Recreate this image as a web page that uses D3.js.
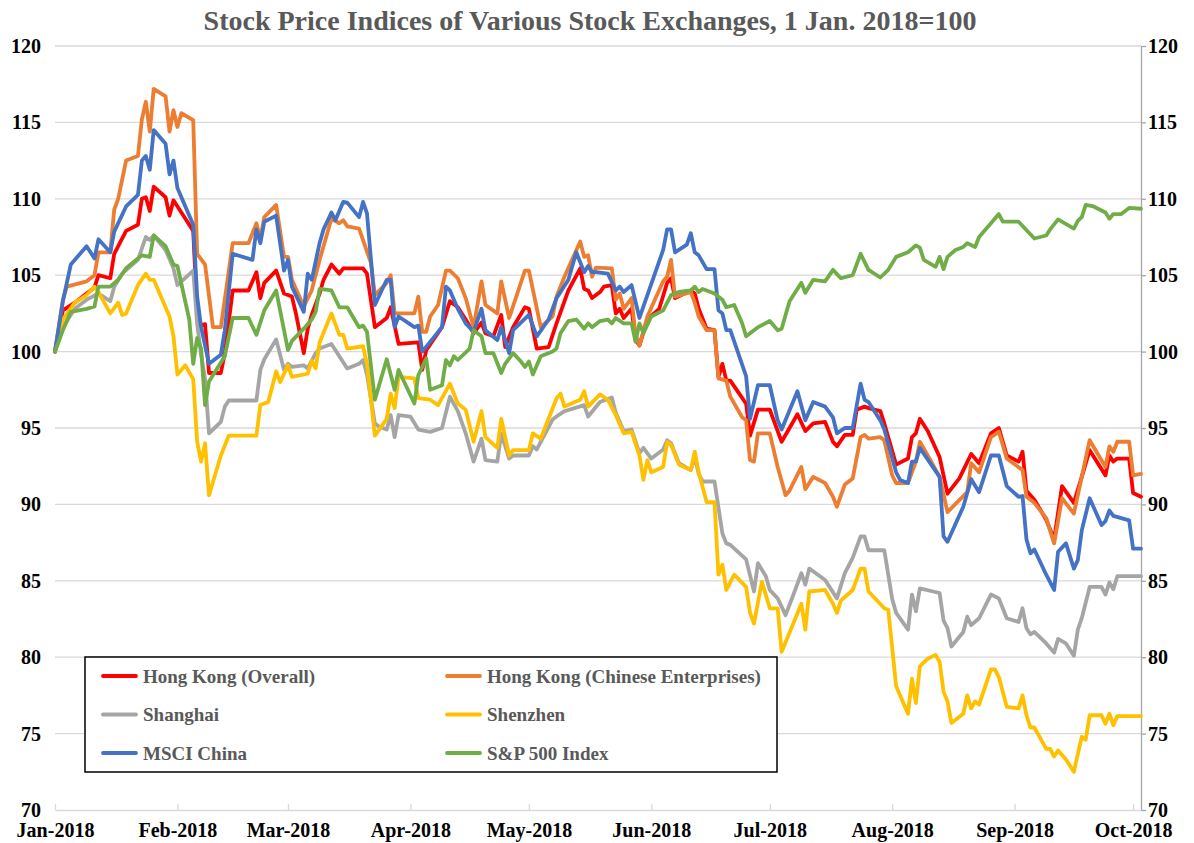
<!DOCTYPE html>
<html>
<head>
<meta charset="utf-8">
<script src="https://cdn.jsdelivr.net/npm/d3@7"></script>
<style>
  body { margin: 0; background: #fff; }
  svg { display: block; }
  text { font-family: "Liberation Serif", "Times New Roman", serif; font-weight: bold; }
</style>
</head>
<body>
<div id="chart"></div>
<script>
// Stock price indices, 1 Jan 2018 = 100
// each point is [days since 1 Jan 2018, index value]

var hkOverall = [[0,100],[2,102.7],[5,103.2],[8,103.8],[10,104.2],[11,105.0],[14,104.8],[15,106.4],[18,107.9],[21,108.3],[22,110.0],[23,110.1],[24,109.2],[25,110.8],[28,110.1],[29,108.9],[30,109.9],[32,109.1],[35,107.9],[36,102.5],[37,101.7],[38,101.8],[39,98.6],[42,98.6],[43,99.9],[45,104.0],[49,104.0],[51,105.2],[52,103.5],[53,104.5],[56,105.3],[58,103.8],[60,103.6],[61,102.5],[63,99.9],[64,101.5],[65,102.4],[67,103.8],[68,104.7],[70,105.7],[72,105.1],[73,105.45],[78,105.45],[79,105.1],[81,101.6],[84,102.2],[85,102.9],[87,100.5],[92,100.6],[93,98.8],[94,100.1],[98,101.6],[100,103.3],[102,102.9],[104,102.1],[106,101.2],[108,101.9],[109,101.2],[111,101.0],[113,102.4],[114,100.3],[116,101.6],[119,102.9],[120,102.8],[122,100.2],[125,100.3],[127,101.85],[130,104.0],[133,105.45],[134,104.1],[135,104.0],[136,103.5],[138,103.9],[139,104.25],[141,104.35],[142,102.5],[143,102.8],[144,102.2],[146,102.8],[147,100.75],[148,100.4],[150,102.1],[153,102.8],[155,104.5],[156,104.8],[157,103.5],[161,104.0],[162,103.8],[163,102.8],[165,101.5],[167,101.4],[168,98.35],[169,99.2],[170,98.1],[171,98.1],[175,96.6],[176,94.5],[178,96.2],[181,96.2],[184,94.1],[188,95.9],[190,94.8],[192,95.3],[195,95.4],[197,94.1],[198,93.8],[200,94.55],[202,94.55],[203,96.2],[205,96.4],[206,96.3],[209,96.1],[210,95.3],[213,92.6],[216,93.0],[217,94.4],[218,94.65],[219,95.6],[221,94.8],[224,93.1],[226,90.7],[229,91.7],[232,93.3],[234,92.7],[237,94.65],[239,95.0],[241,93.2],[244,92.8],[245,93.45],[246,90.9],[248,90.3],[251,89.0],[253,87.7],[255,91.2],[258,90.1],[260,91.8],[262,93.55],[266,91.9],[267,93.2],[268,92.8],[269,93.0],[272,93.0],[273,90.75],[275,90.5]];

var hkChinese = [[0,100],[2,103.4],[3,104.25],[8,104.6],[10,105.0],[11,106.5],[14,106.5],[15,109.3],[16,110.0],[18,112.5],[21,112.8],[22,115.2],[23,116.35],[24,114.4],[25,117.2],[28,116.7],[29,114.4],[30,115.8],[31,114.7],[32,115.6],[35,115.15],[36,106.4],[38,105.7],[40,101.6],[42,101.6],[45,107.1],[49,107.1],[51,108.4],[52,107.4],[53,108.8],[56,109.6],[58,106.2],[59,106.2],[60,104.7],[63,102.95],[65,104.0],[67,106.0],[70,108.7],[72,108.4],[73,108.6],[74,108.2],[77,108.05],[80,105.8],[81,103.7],[84,104.5],[85,105.0],[86,102.5],[91,102.5],[92,103.6],[93,101.3],[94,101.3],[95,102.3],[97,103.05],[99,105.3],[100,105.3],[102,104.8],[104,103.5],[106,101.6],[108,104.6],[109,103.05],[112,102.5],[113,104.6],[115,102.2],[119,105.3],[120,105.3],[123,101.6],[126,102.3],[127,103.6],[129,104.9],[133,107.2],[134,106.2],[135,106.3],[136,104.9],[137,105.5],[141,105.45],[142,103.4],[143,103.8],[144,102.8],[146,103.5],[147,101.1],[148,100.4],[150,102.3],[154,104.6],[155,104.9],[156,106.0],[157,103.6],[161,103.9],[162,103.2],[163,102.3],[165,101.4],[167,101.4],[168,98.25],[170,98.1],[171,97.05],[174,95.7],[175,95.5],[176,92.9],[177,92.8],[178,94.65],[181,94.65],[183,92.45],[185,90.6],[186,90.9],[189,92.45],[190,91.0],[192,91.8],[195,91.4],[197,90.5],[198,89.85],[200,91.3],[202,91.7],[204,94.4],[205,94.55],[206,94.3],[209,94.4],[210,94.2],[212,91.9],[213,91.4],[216,91.4],[218,92.8],[219,94.1],[221,93.2],[224,91.8],[226,89.5],[231,90.8],[232,92.7],[234,92.1],[237,94.4],[239,94.75],[241,93.0],[245,92.25],[246,90.5],[248,90.1],[251,89.1],[253,87.45],[255,90.4],[258,89.4],[260,91.8],[262,94.2],[266,92.45],[267,93.8],[268,93.45],[269,94.1],[272,94.1],[273,91.9],[275,92.0]];

var shanghai = [[0,100],[2,101.6],[5,102.8],[8,103.4],[11,103.8],[14,103.3],[15,104.25],[17,105.1],[21,106.0],[23,107.5],[24,107.3],[25,107.6],[28,106.65],[30,105.45],[31,104.35],[35,105.3],[36,101.8],[37,99.8],[38,98.2],[39,94.65],[42,95.4],[43,96.4],[44,96.8],[51,96.8],[52,98.8],[53,99.5],[56,100.8],[58,98.8],[59,99.2],[60,99.0],[63,99.1],[64,98.9],[66,99.9],[67,100.2],[70,100.5],[72,99.7],[74,98.9],[77,99.2],[78,99.45],[79,98.5],[81,95.3],[82,95.1],[84,94.9],[85,95.85],[86,94.4],[87,95.85],[90,95.75],[92,94.9],[95,94.75],[98,95.0],[100,97.05],[102,96.1],[104,94.65],[106,92.8],[108,94.3],[109,92.9],[112,92.8],[113,94.65],[115,93.0],[116,93.2],[120,93.2],[121,93.8],[122,93.6],[126,95.55],[127,95.75],[129,96.1],[134,96.5],[135,95.75],[138,96.7],[141,97.0],[142,96.0],[144,94.8],[146,94.9],[148,93.35],[149,93.7],[151,93.0],[154,93.6],[155,94.2],[156,94.0],[158,92.7],[161,92.25],[162,93.1],[163,92.0],[164,91.5],[167,91.5],[169,88.1],[170,87.45],[171,87.35],[175,86.4],[177,84.3],[178,86.15],[180,85.3],[181,84.4],[183,83.85],[185,82.75],[187,84.1],[189,85.5],[190,84.75],[191,85.8],[195,85.05],[198,83.85],[200,85.5],[202,86.5],[204,87.9],[205,87.9],[206,87.0],[210,87.0],[212,83.8],[213,82.9],[216,81.8],[217,84.1],[218,83.0],[219,84.5],[224,84.2],[225,82.4],[226,81.9],[227,80.7],[230,81.65],[231,82.65],[232,82.1],[234,82.55],[237,84.1],[239,83.85],[241,82.55],[244,82.3],[245,83.2],[246,81.9],[247,81.5],[248,81.65],[251,80.9],[253,80.3],[254,81.2],[256,80.9],[258,80.1],[259,81.8],[260,82.55],[262,84.6],[265,84.6],[266,84.1],[267,84.9],[268,84.45],[269,85.3],[275,85.3]];

var shenzhen = [[0,100],[2,102.1],[5,103.2],[8,103.7],[10,104.25],[11,103.9],[14,102.5],[16,103.2],[17,102.4],[18,102.5],[21,104.35],[23,105.1],[24,104.7],[25,104.7],[29,102.3],[30,101.0],[31,98.5],[33,99.1],[35,98.2],[36,94.1],[37,92.8],[38,94.0],[39,90.6],[42,93.2],[44,94.5],[51,94.5],[52,96.5],[54,96.7],[56,98.7],[57,98.0],[59,99.1],[60,98.35],[64,98.55],[65,99.4],[66,98.9],[67,100.6],[70,102.5],[72,101.1],[73,101.1],[74,100.2],[78,100.35],[79,99.2],[81,94.5],[84,95.6],[85,97.25],[86,96.3],[87,98.35],[91,98.25],[92,96.95],[95,96.85],[97,96.5],[100,97.9],[102,96.6],[104,96.2],[106,94.1],[108,96.1],[109,94.4],[112,93.7],[113,95.6],[115,93.2],[116,93.55],[120,93.55],[121,94.65],[123,94.3],[127,96.95],[128,97.25],[129,96.4],[133,96.85],[134,97.4],[135,96.4],[138,97.2],[140,96.85],[142,95.85],[144,94.65],[146,94.75],[148,93.2],[149,91.6],[150,92.9],[151,92.1],[154,92.45],[155,94.1],[156,93.9],[158,92.6],[161,92.25],[162,93.45],[163,92.1],[165,90.15],[167,90.15],[168,85.4],[169,86.05],[170,84.4],[172,85.4],[175,84.6],[176,82.9],[177,82.2],[179,84.95],[181,83.2],[183,83.2],[184,80.35],[189,83.5],[190,81.8],[191,84.3],[195,84.4],[197,83.5],[198,82.9],[199,83.7],[202,84.4],[204,85.8],[205,85.8],[206,84.3],[210,83.2],[211,83.1],[213,78.1],[216,76.3],[217,78.6],[218,77.0],[219,79.4],[221,79.9],[223,80.15],[224,79.7],[225,77.75],[226,77.1],[227,75.7],[230,76.3],[231,77.5],[232,76.65],[233,77.1],[234,76.9],[237,79.2],[238,79.2],[239,78.7],[241,76.75],[244,76.65],[245,77.5],[246,76.2],[247,75.4],[248,75.4],[251,74.0],[252,74.0],[253,73.5],[254,73.9],[256,73.3],[258,72.5],[260,74.8],[261,74.6],[262,76.2],[265,76.2],[266,75.65],[267,76.3],[268,75.55],[269,76.15],[275,76.15]];

var msciChina = [[0,100],[2,103.3],[4,105.7],[8,106.9],[10,106.1],[11,107.35],[14,106.5],[15,107.85],[18,109.5],[21,110.25],[22,112.5],[23,112.8],[24,111.9],[25,114.5],[28,113.6],[29,111.6],[30,112.5],[31,110.7],[35,108.3],[36,103.6],[37,101.6],[39,99.2],[42,99.8],[43,101.4],[45,106.4],[50,106.0],[51,108.0],[52,107.1],[53,108.5],[56,108.9],[58,105.3],[59,106.0],[60,104.25],[63,102.6],[64,105.1],[65,104.7],[67,107.1],[68,108.0],[70,109.1],[71,108.6],[73,109.8],[74,109.75],[77,108.8],[78,109.8],[79,109.05],[81,103.05],[84,104.7],[85,104.7],[86,101.6],[87,102.3],[91,101.6],[92,101.7],[93,100.0],[98,101.6],[99,104.25],[100,104.0],[102,102.8],[104,101.85],[106,101.3],[108,102.8],[109,101.4],[112,100.75],[113,101.6],[115,99.9],[116,101.4],[120,102.4],[122,101.0],[125,102.1],[127,103.5],[130,104.7],[132,106.5],[134,105.2],[135,105.6],[136,105.2],[137,105.2],[140,105.1],[142,104.0],[143,104.25],[144,103.9],[146,104.35],[148,102.2],[150,103.7],[154,106.65],[155,108.0],[156,108.0],[157,106.5],[160,107.0],[161,107.75],[162,106.5],[163,106.3],[165,105.4],[167,105.4],[168,102.7],[169,102.5],[170,101.4],[171,101.4],[175,98.4],[176,95.6],[178,97.8],[181,97.8],[183,95.5],[184,94.9],[188,97.4],[190,95.5],[192,96.7],[195,96.4],[197,95.7],[198,94.65],[200,95.0],[202,95.0],[204,97.9],[205,96.85],[206,96.7],[209,95.5],[210,94.9],[213,92.1],[214,91.6],[216,91.4],[217,92.8],[218,92.8],[219,93.7],[224,91.8],[225,87.9],[226,87.55],[230,89.85],[232,91.65],[234,90.8],[237,93.2],[239,93.2],[241,91.2],[244,90.5],[245,90.55],[246,87.7],[247,86.8],[248,87.05],[251,85.4],[253,84.4],[254,86.9],[256,87.45],[258,85.8],[259,86.35],[260,88.3],[262,90.4],[265,88.65],[266,88.9],[267,89.6],[268,89.25],[272,88.95],[273,87.1],[275,87.1]];

var sp500 = [[0,100],[2,101.4],[4,102.6],[8,102.8],[10,102.95],[11,104.25],[14,104.25],[16,104.7],[18,105.45],[21,106.1],[22,106.3],[24,106.2],[25,107.6],[28,106.9],[30,105.7],[31,105.6],[34,102.1],[35,99.2],[36,100.9],[37,100.2],[38,96.5],[39,98.05],[43,99.7],[45,102.2],[49,102.2],[51,101.1],[53,102.7],[56,104.0],[57,102.7],[59,100.1],[60,100.7],[63,101.5],[65,102.1],[66,102.6],[67,104.1],[70,104.0],[72,102.9],[74,102.9],[77,101.6],[78,101.7],[79,101.3],[81,96.85],[84,99.5],[86,97.5],[87,98.8],[91,96.6],[92,98.45],[94,99.55],[95,97.5],[98,97.8],[99,99.45],[100,99.1],[101,99.7],[102,99.45],[105,100.2],[106,101.4],[108,101.0],[109,99.9],[111,99.9],[113,98.6],[114,99.2],[116,99.9],[118,99.35],[119,99.0],[120,99.35],[121,98.5],[123,99.7],[126,100.0],[127,100.2],[128,101.2],[130,102.0],[132,102.1],[134,101.5],[135,101.85],[136,101.6],[138,102.0],[140,102.1],[141,101.85],[142,102.2],[144,101.85],[146,101.85],[147,100.65],[148,101.85],[149,101.2],[151,102.3],[154,102.7],[156,103.7],[158,103.9],[161,104.0],[162,104.25],[163,103.9],[164,104.1],[167,103.8],[169,103.4],[170,102.9],[172,103.05],[174,101.85],[175,101.0],[178,101.6],[181,102.0],[183,101.4],[184,101.5],[186,103.3],[189,104.5],[190,103.85],[192,104.7],[195,104.6],[197,105.35],[199,104.8],[202,105.0],[204,106.4],[206,105.35],[209,104.85],[211,105.35],[213,106.2],[216,106.5],[218,106.95],[219,106.8],[220,106.0],[223,105.55],[224,106.2],[225,105.4],[226,106.2],[228,106.65],[230,106.85],[231,107.1],[233,106.85],[234,107.5],[237,108.4],[239,109.0],[240,108.5],[244,108.5],[248,107.4],[251,107.6],[252,108.0],[254,108.65],[258,108.05],[259,108.55],[260,108.8],[261,109.6],[263,109.5],[266,109.1],[267,108.7],[268,109.0],[270,109.0],[272,109.4],[275,109.35]];

var seriesNames = ["Hong Kong (Overall)", "Hong Kong (Chinese Enterprises)", "Shanghai", "Shenzhen", "MSCI China", "S&P 500 Index"];
var seriesData = [hkOverall, hkChinese, shanghai, shenzhen, msciChina, sp500];
var seriesColors = ["#ff0000", "#ed7d31", "#a5a5a5", "#ffc000", "#4472c4", "#70ad47"];
var yTicks = [70, 75, 80, 85, 90, 95, 100, 105, 110, 115, 120];

var w = 1194, h = 843;
var plotLeft = 55, plotRight = 1141, plotTop = 46, plotBottom = 810;

var start = new Date(2018, 0, 1);
function toDate(d) { return d3.timeDay.offset(start, d); }

var x = d3.scaleTime()
	.domain([start, new Date(2018, 9, 3)])
	.range([plotLeft, plotRight]);

var y = d3.scaleLinear()
	.domain([70, 120])
	.range([plotBottom, plotTop]);

var svg = d3.select('#chart').append('svg')
	.attr('width', w)
	.attr('height', h)
	.style('background', '#fff');

// title
svg.append('text')
	.attr('x', 590)
	.attr('y', 30)
	.attr('text-anchor', 'middle')
	.attr('fill', '#595959')
	.style('font-size', '28px')
	.text('Stock Price Indices of Various Stock Exchanges, 1 Jan. 2018=100');

// gridlines
svg.append('g')
	.selectAll('line')
	.data(yTicks.filter(function(d) { return d > 70; }))
	.enter().append('line')
	.attr('x1', plotLeft)
	.attr('x2', plotRight)
	.attr('y1', function(d) { return y(d); })
	.attr('y2', function(d) { return y(d); })
	.attr('stroke', '#d9d9d9')
	.attr('stroke-width', 1.3);

// left tick labels, no axis line
var yLeft = svg.append('g')
	.attr('transform', 'translate(' + 41 + ',0)')
	.call(d3.axisLeft(y).tickValues(yTicks).tickSize(0).tickPadding(0));
yLeft.select('.domain').remove();
yLeft.selectAll('text')
	.attr('fill', '#000')
	.style('font-size', '20px')
	.style('font-family', '"Liberation Serif", serif');

// right axis
var yRight = svg.append('g')
	.attr('transform', 'translate(' + plotRight + ',0)')
	.call(d3.axisRight(y).tickValues(yTicks).tickSizeInner(5).tickSizeOuter(0).tickPadding(2));
yRight.select('.domain').attr('stroke', '#a6a6a6').attr('stroke-width', 1.3);
yRight.selectAll('.tick line').attr('stroke', '#a6a6a6').attr('stroke-width', 1.3);
yRight.selectAll('text')
	.attr('fill', '#000')
	.style('font-size', '20px')
	.style('font-family', '"Liberation Serif", serif');

// bottom axis
var months = d3.timeMonth.range(start, new Date(2018, 9, 2));
var xAxis = svg.append('g')
	.attr('transform', 'translate(0,' + plotBottom + ')')
	.call(d3.axisBottom(x).tickValues(months).tickFormat(d3.timeFormat('%b-%Y')).tickSizeInner(-6).tickSizeOuter(0).tickPadding(13));
xAxis.select('.domain').attr('stroke', '#d9d9d9').attr('stroke-width', 1.5);
xAxis.selectAll('.tick line').attr('stroke', '#d9d9d9').attr('stroke-width', 1.3);
xAxis.selectAll('text')
	.attr('fill', '#000')
	.style('font-size', '20px')
	.style('font-family', '"Liberation Serif", serif');

// series lines
var line = d3.line()
	.x(function(d) { return x(toDate(d[0])); })
	.y(function(d) { return y(d[1]); });

svg.append('g')
	.selectAll('path')
	.data(seriesData)
	.enter().append('path')
	.attr('d', line)
	.attr('fill', 'none')
	.attr('stroke', function(d, i) { return seriesColors[i]; })
	.attr('stroke-width', 3.8)
	.attr('stroke-linejoin', 'round')
	.attr('stroke-linecap', 'round');

// legend
var legend = svg.append('g');
legend.append('rect')
	.attr('x', 85)
	.attr('y', 657)
	.attr('width', 692)
	.attr('height', 115)
	.attr('fill', '#fff')
	.attr('stroke', '#000')
	.attr('stroke-width', 1.5);

var items = legend.selectAll('g.item')
	.data(seriesNames)
	.enter().append('g')
	.attr('class', 'item')
	.attr('transform', function(d, i) {
		return 'translate(' + [i % 2 == 0 ? 103 : 447, 676 + Math.floor(i / 2) * 38.5] + ')';
	});

items.append('line')
	.attr('x1', 0)
	.attr('x2', 33)
	.attr('stroke', function(d, i) { return seriesColors[i]; })
	.attr('stroke-width', 3.8)
	.attr('stroke-linecap', 'round');

items.append('text')
	.attr('x', 40)
	.attr('dy', '0.35em')
	.attr('fill', '#595959')
	.style('font-size', '19px')
	.text(function(d) { return d; });
</script>
</body>
</html>
